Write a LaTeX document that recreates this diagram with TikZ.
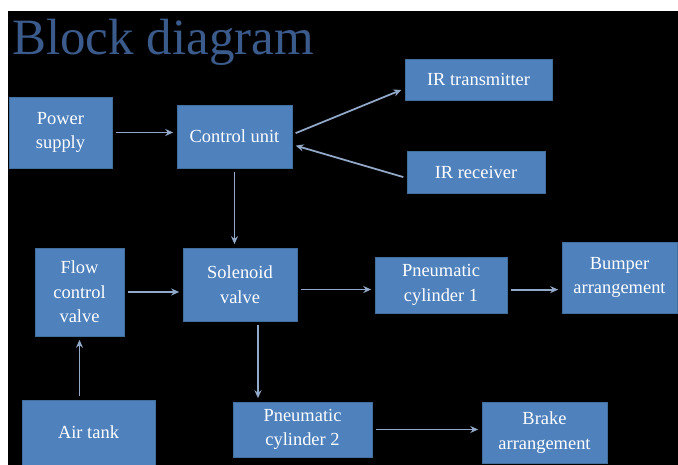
\documentclass[tikz,border=0pt]{standalone}
\usepackage{fontspec}
\setmainfont{Liberation Serif}
\usetikzlibrary{arrows.meta}

\definecolor{boxblue}{HTML}{4F81BD}
\definecolor{boxedge}{HTML}{41709F}
\definecolor{titleblue}{HTML}{3A5B8C}
\definecolor{linkblue}{HTML}{93A9C9}

\tikzset{
  block/.style={fill=boxblue, draw=boxedge, line width=0.4pt, text=white,
    align=center, inner sep=1pt, font=\fontsize{10.5}{14}\selectfont},
  boxsize/.style 2 args={minimum width=#1*0.02cm, minimum height=#2*0.02cm},
  link/.style={-{Stealth[length=4.5pt,width=4pt]}, draw=linkblue,
    line width=1pt, shorten <=2pt, shorten >=2pt}
}

\begin{document}
\begin{tikzpicture}[x=0.02cm, y=-0.02cm]
  % Frame
  \fill[white] (0,0) rectangle (678,465);
  \fill[black] (8,11) rectangle (678,465);
  \useasboundingbox (0,0) rectangle (678,465);

  % Title
  \node[anchor=base west, inner sep=0, text=titleblue,
    font=\fontsize{29}{29}\selectfont] (title) at (12,55) {Block diagram};

  % Top row
  \node[block, boxsize={103}{71}] (power) at (60.5,132.5) {Power\\supply};
  \node[block, boxsize={115}{63}] (control) at (234.5,136.5) {Control unit};
  \node[block, boxsize={147}{41}] (irtx) at (478.5,79.5) {IR transmitter};
  \node[block, boxsize={138}{42}] (irrx) at (476,172) {IR receiver};

  % Middle row
  \node[block, boxsize={89}{88}] (flow) at (79.5,292) {Flow\\control\\valve};
  \node[block, boxsize={114}{73}] (solenoid) at (240,284.5) {Solenoid\\valve};
  \node[block, boxsize={132}{56}] (cyl1) at (441,285) {Pneumatic\\cylinder 1};
  \node[block, boxsize={115}{71}] (bumper) at (619.5,277.5) {Bumper\\arrangement};

  % Bottom row
  \node[block, boxsize={133}{65}] (airtank) at (88.5,432.5) {Air tank};
  \node[block, boxsize={139}{55}] (cyl2) at (302.5,429.5) {Pneumatic\\cylinder 2};
  \node[block, boxsize={125}{61}] (brake) at (544.5,432.5) {Brake\\arrangement};

  % Connections
  \draw[link] (power.east) -- (power.east -| control.west);
  \draw[link] (control.2) -- (irtx.187);
  \draw[link] (irrx.185) -- (control.352);
  \draw[link] (control.south) -- (control.south |- solenoid.north);
  \draw[link] (flow.east) -- (flow.east -| solenoid.west);
  \draw[link] (airtank.north -| flow.south) -- (flow.south);
  \draw[link] (solenoid.355) -- (solenoid.355 -| cyl1.west);
  \draw[link] (cyl1.356) -- (cyl1.356 -| bumper.west);
  \draw[link] (solenoid.296) -- (solenoid.296 |- cyl2.north);
  \draw[link] (cyl2.east) -- (cyl2.east -| brake.west);
\end{tikzpicture}
\end{document}
